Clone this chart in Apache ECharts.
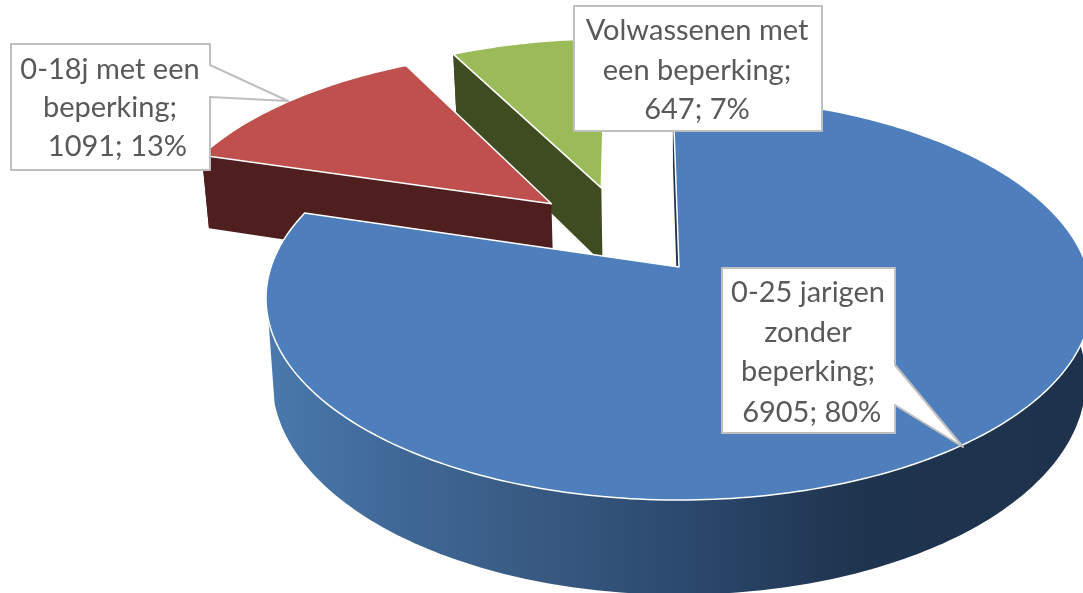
<!DOCTYPE html>
<html>
<head>
<meta charset="utf-8">
<style>html,body{margin:0;padding:0;background:#fff}#c{width:1083px;height:593px}</style>
<script src="https://cdn.jsdelivr.net/npm/echarts@6/dist/echarts.min.js"></script>
</head>
<body>
<div id="c"></div>
<script>
const categories = ['0-25 jarigen\nzonder\nbeperking', '0-18j met een\nbeperking', 'Volwassenen met\neen beperking'];
const values = [6905, 1091, 647];
const valuePrefix = ['\u00a0', '\u00a0\u00a0', ''];

// 3D view
const view = { cx: 679, cy: 267, B: 408, A: 196.9, k: 0.155, depth: 80, inset: 0.985, startAngle: -1 };
const explode = [[0, 0], [-0.329, -0.338], [-0.203, -0.4285]];
const radiusScale = [1, 0.995, 0.985];
const topColors = ['#4e7fbc', '#bf504d', '#9bbb59'];
const wallColors = [null, '#4e1f1e', '#3f4b20'];
const layers = [30, 20, 10];
const boxes = [
  { x0: 722, y0: 268, x1: 895, y1: 433, wedge: [[895, 365], [963, 447], [895, 405]], tx: 808, ty: [293, 333, 372, 413] },
  { x0: 11, y0: 44, x1: 210, y1: 170, wedge: [[210, 65], [288, 101], [210, 97]], tx: 110, ty: [70, 108, 147] },
  { x0: 574, y0: 6, x1: 822, y1: 131, wedge: [], tx: 697, ty: [31, 71, 110] }
];

const total = values.reduce((a, b) => a + b, 0);

function project(u, v, low) {
  const w = 1 - view.k * v;
  const s = low ? view.inset : 1;
  return [view.cx + view.B * u / w * s, view.cy + view.A * v / w + (low ? view.depth / w : 0)];
}
function rimPoint(deg, off, r) {
  const t = deg * Math.PI / 180;
  return [r * Math.sin(t) + off[0], -r * Math.cos(t) + off[1]];
}
function arc(from, to, off, low, r) {
  const pts = [], n = Math.max(2, Math.ceil(Math.abs(to - from)));
  for (let i = 0; i <= n; i++) {
    const p = rimPoint(from + (to - from) * i / n, off, r);
    pts.push(project(p[0], p[1], low));
  }
  return pts;
}
const blueSide = new echarts.graphic.LinearGradient(267, 0, 1083, 0, [
  { offset: 0, color: '#4a79ad' },
  { offset: 0.17, color: '#3f6796' },
  { offset: 0.35, color: '#37587f' },
  { offset: 0.5, color: '#2c4a70' },
  { offset: 0.72, color: '#1f344f' },
  { offset: 1, color: '#1e324d' }
], true);

function renderItem(params, api) {
  const i = params.dataIndex;
  const val = api.value(0);
  let before = 0;
  for (let j = 0; j < i; j++) before += values[j];
  const a0 = view.startAngle + before / total * 360;
  const a1 = a0 + val / total * 360;
  const off = explode[i];
  const r = radiusScale[i];
  const apexT = project(off[0], off[1], false);
  const apexB = project(off[0], off[1], true);
  const children = [];
  const z = layers[i];
  const poly = (points, fill, stroke, lw, zz) => children.push({
    type: 'polygon', z2: zz, shape: { points },
    style: { fill, stroke: stroke || null, lineWidth: lw || 0, lineJoin: 'round' }, silent: true
  });
  const o0 = arc(a0, a0, off, false, r)[0], o1 = arc(a0, a0, off, true, r)[0];

  if (i === 0) {
    // curved front wall and the thin wall along the first radius
    const top = arc(75, 255, off, false, r), low = arc(75, 255, off, true, r).reverse();
    poly(top.concat(low), blueSide, null, 0, z);
    poly([o0, apexT, apexB, o1], '#1e324d', null, 0, z);
  } else {
    const top = arc(a0, a1, off, false, r), low = arc(a0, a1, off, true, r).reverse();
    poly(top.concat(low), wallColors[i], null, 0, z);
    poly([apexT, o0, o1, apexB], wallColors[i], null, 0, z);
  }
  poly([apexT].concat(arc(a0, a1, off, false, r)), topColors[i], '#ffffff', 1.5, z + 1);

  // callout label
  const b = boxes[i];
  const outline = [[b.x0, b.y0], [b.x1, b.y0]].concat(b.wedge).concat([[b.x1, b.y1], [b.x0, b.y1]]);
  poly(outline, '#ffffff', '#bfbfbf', 2, 100 + i * 3);
  const lines = (categories[i] + ';').split('\n');
  lines.push(valuePrefix[i] + val + '; ' + Math.round(val / total * 100) + '%');
  lines.forEach((t, n) => children.push({
    type: 'text', z2: 101 + i * 3, silent: true,
    style: {
      x: b.tx, y: b.ty[n], text: t, textAlign: 'center', textVerticalAlign: 'middle',
      fontFamily: 'Lato', fontSize: 29, fill: '#595959'
    }
  }));
  return { type: 'group', children };
}

const chart = echarts.init(document.getElementById('c'), null, { renderer: 'canvas' });
chart.setOption({
  animation: false,
  backgroundColor: '#ffffff',
  series: [{
    type: 'custom',
    coordinateSystem: 'none',
    renderItem,
    data: values.map((v, i) => ({ name: categories[i], value: [v] }))
  }]
});
</script>
</body>
</html>
